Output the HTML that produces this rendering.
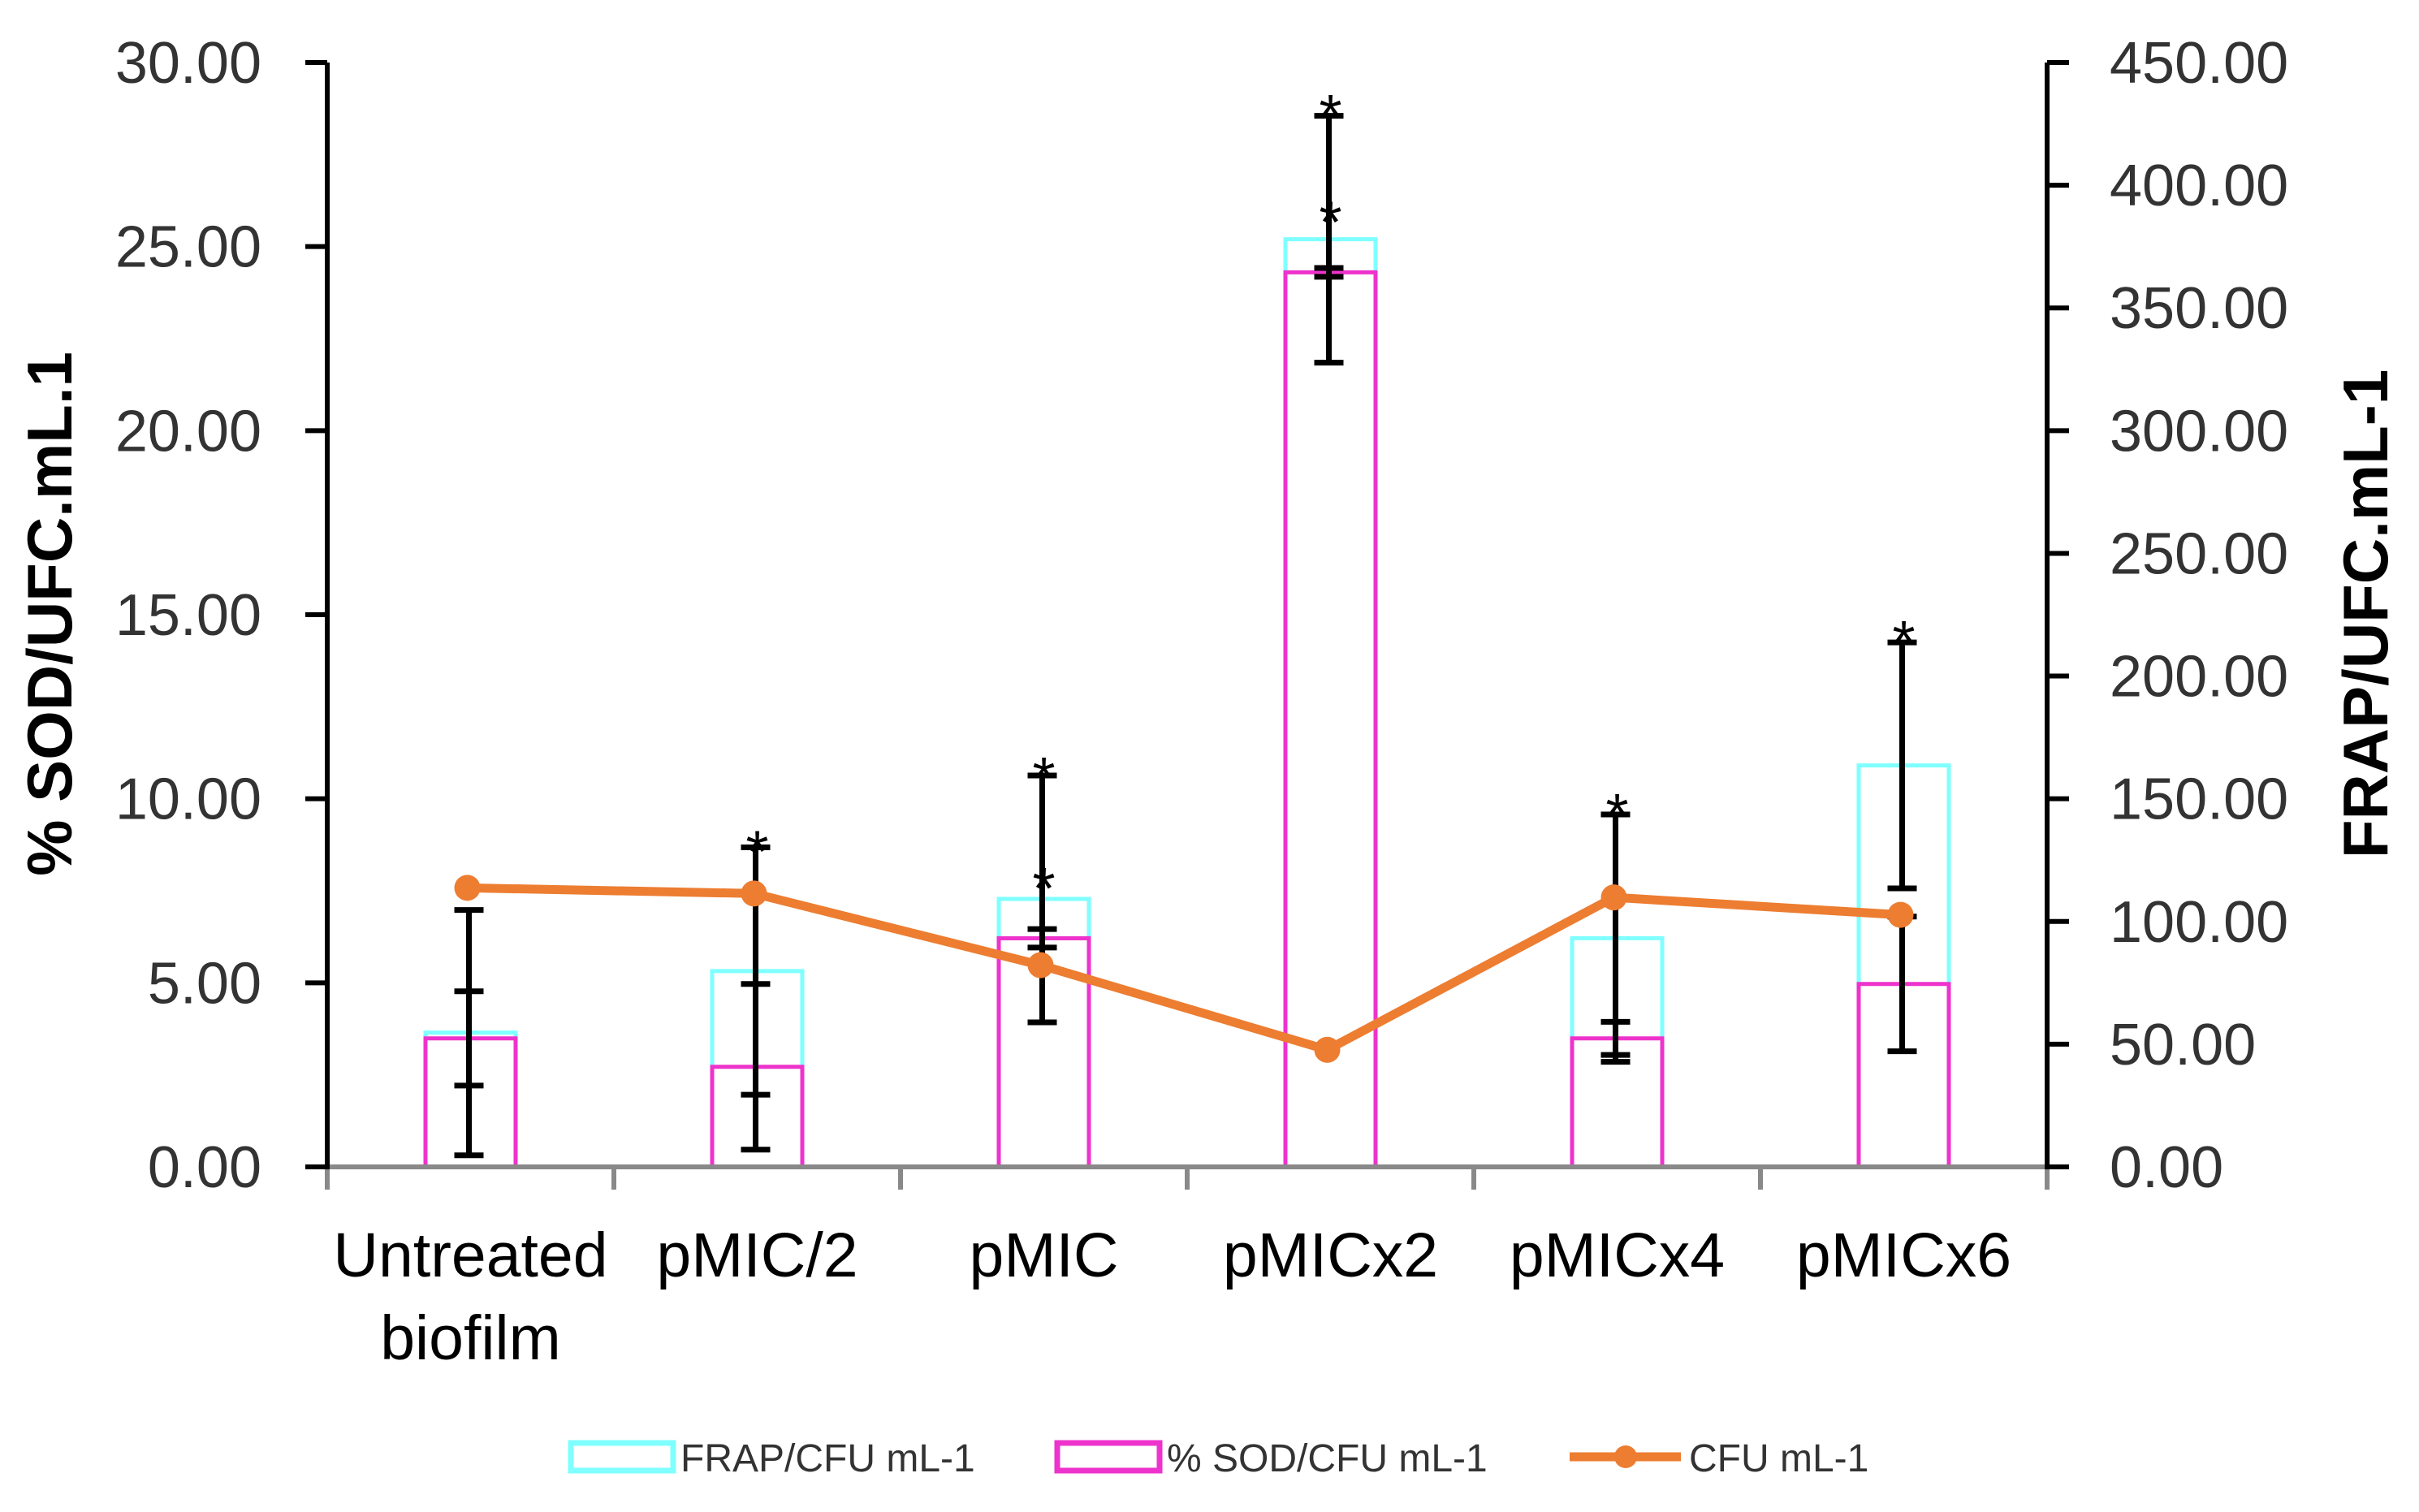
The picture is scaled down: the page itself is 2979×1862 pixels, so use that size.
<!DOCTYPE html>
<html><head><meta charset="utf-8"><style>
html,body{margin:0;padding:0;background:#fff;}
svg{display:block;font-family:"Liberation Sans",sans-serif;}
</style></head><body>
<svg id="chart" width="2979" height="1862" viewBox="0 0 2979 1862" xmlns="http://www.w3.org/2000/svg">
<rect x="0" y="0" width="2979" height="1862" fill="#fff"/>
<g id="plot"></g>
</svg>
<script>
const categories = ["Untreated|biofilm","pMIC/2","pMIC","pMICx2","pMICx4","pMICx6"];
const frapValues = [54.7, 79.8, 109.2, 378.0, 93.2, 163.6];
const frapErr = [50.0, 50.4, 50.3, 50.3, 50.4, 50.1];
const sodValues = [3.49, 2.72, 6.21, 24.3, 3.49, 4.97];
const sodErr = [1.28, 2.25, 0.25, 0.12, 0.45, 1.83];
const cfuValues = [113.7, 111.4, 82.2, 47.7, 109.8, 102.7];
const leftTicks = ["0.00","5.00","10.00","15.00","20.00","25.00","30.00"];
const rightTicks = ["0.00","50.00","100.00","150.00","200.00","250.00","300.00","350.00","400.00","450.00"];
const frapStars = [null, null, 10.9, 28.9, 9.9, 14.6];
const sodStars = [null, 8.9, 7.9, 26.0, null, null];

const X0=403, X1=2521, Y0=1437, Y1=77, LMAX=30, RMAX=450;
const n=categories.length, step=(X1-X0)/n, barW=111;
const xc=i=>X0+step*(i+0.5);
const yL=v=>Y0-(v/LMAX)*(Y0-Y1);
const yR=v=>Y0-(v/RMAX)*(Y0-Y1);
const NS="http://www.w3.org/2000/svg";
const g=document.getElementById('plot');
function mk(tag,attrs,parent){const e=document.createElementNS(NS,tag);for(const k in attrs)e.setAttribute(k,attrs[k]);(parent||g).appendChild(e);return e;}

for(let i=0;i<n;i++){
  const yf=yR(frapValues[i]);
  const r1=mk('path',{d:`M${xc(i)-barW/2},${Y0} V${yf} H${xc(i)+barW/2} V${Y0}`,fill:'none',stroke:'#7FFFFF','stroke-width':5});
  
  
  const ys=yL(sodValues[i]);
  const r2=mk('path',{d:`M${xc(i)-barW/2},${Y0} V${ys} H${xc(i)+barW/2} V${Y0}`,fill:'none',stroke:'#EE33CC','stroke-width':5});
  
  
}
function errBar(x,yt,yb,name){
  const eg=mk('g',{stroke:'#000','stroke-width':7});
  
  
  mk('line',{x1:x,y1:yt,x2:x,y2:yb},eg);
  mk('line',{x1:x-18,y1:yt,x2:x+18,y2:yt},eg);
  mk('line',{x1:x-18,y1:yb,x2:x+18,y2:yb},eg);
}
for(let i=0;i<n;i++){
  errBar(xc(i)-2,yR(frapValues[i]+frapErr[i]),yR(frapValues[i]-frapErr[i]),'frap-error-'+i);
  errBar(xc(i)-2,yL(sodValues[i]+sodErr[i]),yL(sodValues[i]-sodErr[i]),'sod-error-'+i);
}
function star(x,y,name){
  const t=mk('text',{x:x,y:y+40,'font-size':72,'text-anchor':'middle',fill:'#000'});
  t.textContent='*';
  
  
}
for(let i=0;i<n;i++){
  if(frapStars[i]!==null) star(xc(i),yL(frapStars[i]),'frap-significance-'+i);
  if(sodStars[i]!==null) star(xc(i),yL(sodStars[i]),'sod-significance-'+i);
}
let d='';
for(let i=0;i<n;i++){d+=(i?'L':'M')+(xc(i)-4)+','+yR(cfuValues[i])+' ';}
const ln=mk('path',{d:d,fill:'none',stroke:'#ED7D31','stroke-width':11,'stroke-linejoin':'round'});


for(let i=0;i<n;i++){
  const c=mk('circle',{cx:xc(i)-4,cy:yR(cfuValues[i]),r:16,fill:'#ED7D31'});
  
  
}
const xa=mk('g',{stroke:'#898989','stroke-width':6});


mk('line',{x1:X0,y1:Y0,x2:X1,y2:Y0},xa);
for(let i=0;i<=n;i++){mk('line',{x1:X0+step*i,y1:Y0,x2:X0+step*i,y2:Y0+28},xa);}
const la=mk('g',{stroke:'#000','stroke-width':6});


mk('line',{x1:X0,y1:Y1,x2:X0,y2:Y0+3},la);
const ra=mk('g',{stroke:'#000','stroke-width':6});


mk('line',{x1:X1,y1:Y1,x2:X1,y2:Y0+3},ra);
leftTicks.forEach((t,i)=>{
  const v=parseFloat(t);const y=yL(v);
  mk('line',{x1:X0-27,y1:y,x2:X0,y2:y},la);
  const tx=mk('text',{x:322,y:y+25,'font-size':72,'text-anchor':'end',fill:'#333'});
  tx.textContent=t;
  
  
});
rightTicks.forEach((t,i)=>{
  const v=parseFloat(t);const y=yR(v);
  mk('line',{x1:X1,y1:y,x2:X1+27,y2:y},ra);
  const tx=mk('text',{x:2598,y:y+25,'font-size':72,'text-anchor':'start',fill:'#333'});
  tx.textContent=t;
  
  
});
categories.forEach((c,i)=>{
  const parts=c.split('|');
  parts.forEach((p,j)=>{
    const tx=mk('text',{x:xc(i),y:1572+j*102,'font-size':77,'text-anchor':'middle',fill:'#000'});
    tx.textContent=p;
    
    
  });
});
const lt=mk('text',{x:0,y:0,'font-size':78,'font-weight':'bold','text-anchor':'middle',fill:'#000',transform:'translate(88,756) rotate(-90)'});
lt.textContent='% SOD/UFC.mL.1';


const rt=mk('text',{x:0,y:0,'font-size':78,'font-weight':'bold','text-anchor':'middle',fill:'#000',transform:'translate(2940,756) rotate(-90)'});
rt.textContent='FRAP/UFC.mL-1';


const lg=mk('g',{});


const e1=mk('g',{},lg);


mk('rect',{x:703,y:1777,width:126,height:34,fill:'none',stroke:'#7FFFFF','stroke-width':7},e1);
const t1=mk('text',{x:838,y:1812,'font-size':48,fill:'#333'},e1);t1.textContent='FRAP/CFU mL-1';
const e2=mk('g',{},lg);


mk('rect',{x:1302,y:1777,width:126,height:34,fill:'none',stroke:'#EE33CC','stroke-width':7},e2);
const t2=mk('text',{x:1437,y:1812,'font-size':48,fill:'#333'},e2);t2.textContent='% SOD/CFU  mL-1';
const e3=mk('g',{},lg);


mk('line',{x1:1933,y1:1794,x2:2070,y2:1794,stroke:'#ED7D31','stroke-width':11},e3);
mk('circle',{cx:2002,cy:1794,r:14,fill:'#ED7D31'},e3);
const t3=mk('text',{x:2080,y:1812,'font-size':48,fill:'#333'},e3);t3.textContent='CFU mL-1';
</script>
</body></html>
